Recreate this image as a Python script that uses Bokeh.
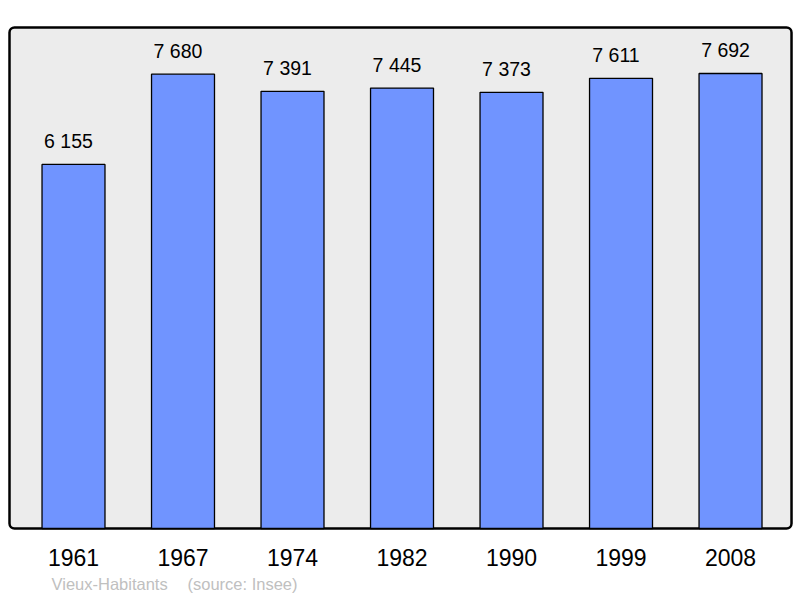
from bokeh.plotting import figure
from bokeh.models import Label, Range1d, BoxAnnotation
from bokeh.embed import file_html
from bokeh.resources import INLINE

years = ["1961", "1967", "1974", "1982", "1990", "1999", "2008"]
population = [6155, 7680, 7391, 7445, 7373, 7611, 7692]
value_labels = ["6 155", "7 680", "7 391", "7 445", "7 373", "7 611", "7 692"]
commune_name = "Vieux-Habitants"
source_note = "(source: Insee)"

xs = list(range(len(years)))

p = figure(width=800, height=598, output_backend="svg", toolbar_location=None,
           x_range=Range1d(-0.6667, 6.639), y_range=Range1d(-1183, 8926),
           min_border=0)
p.axis.visible = False
p.grid.visible = False
p.background_fill_color = "white"
p.border_fill_color = "white"
p.outline_line_color = None

box = BoxAnnotation(left=-0.5845, right=6.557, bottom=0, top=8470,
                    fill_color="#ececec", fill_alpha=1.0,
                    line_color="black", line_width=2.5, line_alpha=1.0,
                    border_radius=5, level="underlay")
p.add_layout(box)

p.vbar(x=xs, top=population, width=0.575, bottom=0,
       fill_color="#7094ff", line_color="black", line_width=1.3)

for i, (yr, v, lab) in enumerate(zip(years, population, value_labels)):
    p.add_layout(Label(x=i, y=v, text=lab, text_align="center", text_baseline="middle",
                       x_offset=-5, y_offset=23, text_font="Liberation Sans",
                       text_font_size="19.5px", text_color="black"))
    p.add_layout(Label(x=i, y=0, text=yr, text_align="center", text_baseline="middle",
                       y_offset=-29, text_font="Liberation Sans", text_font_size="23px",
                       text_color="black"))

p.add_layout(Label(x=-0.2009, y=0, text=commune_name, text_align="left", text_baseline="middle",
                   y_offset=-55.5, text_font="Liberation Sans", text_font_size="16.5px",
                   text_color="#c0c0c0"))
p.add_layout(Label(x=1.041, y=0, text=source_note, text_align="left", text_baseline="middle",
                   y_offset=-55.5, text_font="Liberation Sans", text_font_size="16.5px",
                   text_color="#c0c0c0"))

open("out.html", "w").write(file_html(p, INLINE))
